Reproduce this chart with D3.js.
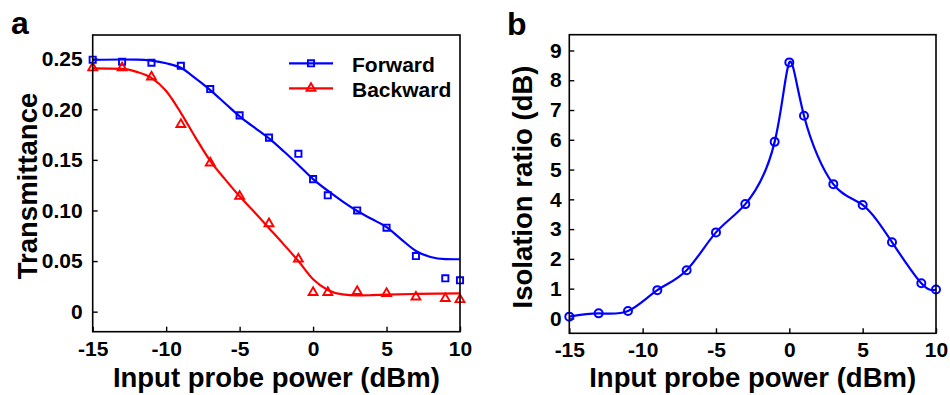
<!DOCTYPE html>
<html>
<head>
<meta charset="utf-8">
<script src="https://cdn.jsdelivr.net/npm/d3@7"></script>
<style>
  body { margin: 0; background: #fff; }
  svg { display: block; font-family: "Liberation Sans", Arial, sans-serif; font-weight: bold; }
  .frame { fill: none; stroke: #000; stroke-width: 1.6; }
  .tick line { stroke: #000; stroke-width: 1.4; }
  .domain { display: none; }
</style>
</head>
<body>
<div id="chart"></div>
<script>
// measured points (dBm)
var power = [-15, -13, -11, -9, -7, -5, -3, -1, 0, 1, 3, 5, 7, 9, 10];
var forward = [0.249, 0.247, 0.246, 0.243, 0.220, 0.194, 0.172, 0.156, 0.131, 0.115, 0.100, 0.083, 0.055, 0.033, 0.031];
var backward = [0.241, 0.241, 0.232, 0.185, 0.147, 0.114, 0.087, 0.052, 0.019, 0.019, 0.020, 0.018, 0.0145, 0.013, 0.012];
var isolation = [0.06, 0.17, 0.25, 0.95, 1.62, 2.89, 3.84, 5.93, 8.60, 6.81, 4.51, 3.81, 2.56, 1.18, 0.97];

// fitted curves
var fitPowerF = [-15, -13, -12, -11, -10, -9, -8, -7, -6, -5, -4, -3, -2, -1, 0, 1, 2, 3, 4, 5, 6, 7, 8, 9, 10];
var fitForward = [0.2488, 0.2492, 0.2490, 0.2480, 0.2455, 0.2410, 0.2305, 0.2190, 0.2060, 0.1930, 0.1820, 0.1712, 0.1585, 0.1450, 0.1310, 0.1195, 0.1090, 0.0995, 0.0915, 0.0835, 0.0715, 0.0600, 0.0540, 0.0520, 0.0518];
var fitPowerB = [-15, -13, -12, -11, -10, -9, -8, -7, -6, -5, -4, -3, -2, -1, 0, 1, 2, 3, 4, 5, 7, 10];
var fitBackward = [0.2405, 0.2400, 0.2370, 0.2310, 0.2180, 0.1965, 0.1720, 0.1490, 0.1310, 0.1140, 0.0985, 0.0825, 0.0665, 0.0500, 0.0320, 0.0215, 0.0170, 0.0160, 0.0163, 0.0168, 0.0175, 0.0180];

var xTicks = [-15, -10, -5, 0, 5, 10];
var yTicksA = [0, 0.05, 0.10, 0.15, 0.20, 0.25];
var yTickLabelsA = ["0", "0.05", "0.10", "0.15", "0.20", "0.25"];
var yTicksB = [0, 1, 2, 3, 4, 5, 6, 7, 8, 9];
var legendNames = ["Forward", "Backward"];

var svg = d3.select("#chart").append("svg")
  .attr("width", 950)
  .attr("height", 395);

var blue = "#0000ff", red = "#ff0000";

function frame(g, x, y) {
  var r = x.range(), s = y.range();
  g.append("rect")
    .attr("class", "frame")
    .attr("x", r[0]).attr("y", s[1])
    .attr("width", r[1] - r[0]).attr("height", s[0] - s[1]);
}

function axes(g, x, y, yVals, yFmt, yPad) {
  var bottom = y.range()[0], left = x.range()[0];
  g.append("g")
    .attr("transform", "translate(0," + bottom + ")")
    .call(d3.axisBottom(x).tickValues(xTicks).tickSize(-5).tickPadding(9)
      .tickFormat(d => String(d)))
    .call(a => a.selectAll("text").attr("font-size", 21).attr("fill", "#000").attr("dy", "0.72em"));
  g.append("g")
    .attr("transform", "translate(" + left + ",0)")
    .call(d3.axisLeft(y).tickValues(yVals).tickSize(-5).tickPadding(yPad).tickFormat(yFmt))
    .call(a => a.selectAll("text").attr("font-size", 21).attr("fill", "#000"));
}

// ---- panel a
var xa = d3.scaleLinear().domain([-15, 10]).range([92.7, 460]);
var ya = d3.scaleLinear().domain([-0.0198, 0.2734]).range([331.7, 35]);
var ga = svg.append("g");

axes(ga, xa, ya, yTicksA, (d, i) => yTickLabelsA[i], 10);

var lineA = d3.line().curve(d3.curveMonotoneX);
ga.append("path")
  .attr("d", lineA(fitPowerF.map((p, i) => [xa(p), ya(fitForward[i])])))
  .attr("fill", "none").attr("stroke", blue).attr("stroke-width", 2.2);
ga.append("path")
  .attr("d", lineA(fitPowerB.map((p, i) => [xa(p), ya(fitBackward[i])])))
  .attr("fill", "none").attr("stroke", red).attr("stroke-width", 2.2);

var square = d3.symbol(d3.symbolSquare, 38);
var tri = d3.symbol(d3.symbolTriangle, 34);

ga.selectAll(".fw").data(power).join("path")
  .attr("class", "fw")
  .attr("d", square)
  .attr("transform", (d, i) => "translate(" + xa(d) + "," + ya(forward[i]) + ")")
  .attr("fill", "none").attr("stroke", blue).attr("stroke-width", 1.9);
ga.selectAll(".bw").data(power).join("path")
  .attr("class", "bw")
  .attr("d", tri)
  .attr("transform", (d, i) => "translate(" + xa(d) + "," + ya(backward[i]) + ")")
  .attr("fill", "none").attr("stroke", red).attr("stroke-width", 1.9);

frame(ga, xa, ya);

// legend
var leg = ga.append("g");
[blue, red].forEach(function(c, i) {
  var ly = 63.3 + i * 25;
  leg.append("line").attr("x1", 289).attr("x2", 333).attr("y1", ly).attr("y2", ly)
    .attr("stroke", c).attr("stroke-width", 2.2);
  leg.append("path").attr("d", i == 0 ? square : tri)
    .attr("transform", "translate(311," + ly + ")")
    .attr("fill", "none").attr("stroke", c).attr("stroke-width", 1.9);
  leg.append("text").attr("x", 352).attr("y", ly + 8.5)
    .attr("font-size", 21).text(legendNames[i]);
});

ga.append("text")
  .attr("x", (92.7 + 460) / 2).attr("y", 387)
  .attr("text-anchor", "middle").attr("font-size", 27.5)
  .text("Input probe power (dBm)");
ga.append("text")
  .attr("transform", "translate(37,186) rotate(-90)")
  .attr("text-anchor", "middle").attr("font-size", 27.5)
  .text("Transmittance");
ga.append("text").attr("x", 11).attr("y", 33.5).attr("font-size", 32).text("a");

// ---- panel b
var xb = d3.scaleLinear().domain([-15, 10]).range([569.3, 936]);
var yb = d3.scaleLinear().domain([-0.5, 9.53]).range([333.3, 34.7]);
var gb = svg.append("g");

axes(gb, xb, yb, yTicksB, d => String(d), 7.5);

gb.append("path")
  .attr("d", d3.line().curve(d3.curveNatural)(power.map((p, i) => [xb(p), yb(isolation[i])])))
  .attr("fill", "none").attr("stroke", blue).attr("stroke-width", 2.2);

gb.selectAll(".iso").data(power).join("circle")
  .attr("class", "iso")
  .attr("cx", d => xb(d))
  .attr("cy", (d, i) => yb(isolation[i]))
  .attr("r", 4)
  .attr("fill", "none").attr("stroke", blue).attr("stroke-width", 2);

frame(gb, xb, yb);

gb.append("text")
  .attr("x", (569.3 + 936) / 2).attr("y", 387)
  .attr("text-anchor", "middle").attr("font-size", 27.5)
  .text("Input probe power (dBm)");
gb.append("text")
  .attr("transform", "translate(532,187) rotate(-90)")
  .attr("text-anchor", "middle").attr("font-size", 27.5)
  .text("Isolation ratio (dB)");
gb.append("text").attr("x", 507).attr("y", 35).attr("font-size", 32).text("b");
</script>
</body>
</html>
